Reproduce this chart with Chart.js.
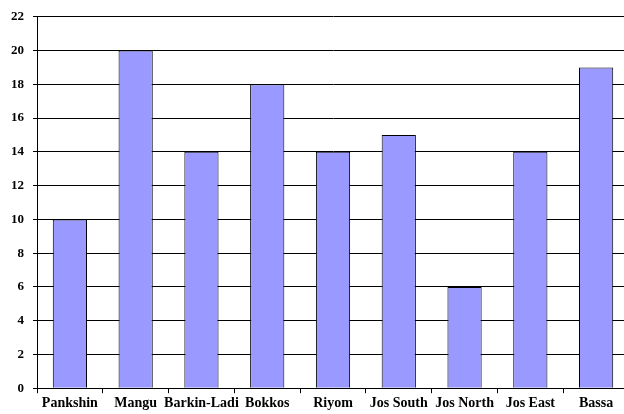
<!DOCTYPE html>
<html>
<head>
<meta charset="utf-8">
<script src="https://cdn.jsdelivr.net/npm/chart.js@4"></script>
<style>
    html, body { margin: 0; padding: 0; background: #fff; overflow: hidden; }
    #wrap { position: relative; width: 640px; height: 414px; }
</style>
</head>
<body>
<div id="wrap"><canvas id="barChart"></canvas></div>
<script>
// Data
const categories = ['Pankshin', 'Mangu', 'Barkin-Ladi', 'Bokkos', 'Riyom', 'Jos South', 'Jos North', 'Jos East', 'Bassa'];
const values = [10, 20, 14, 18, 14, 15, 6, 14, 19];
const yMin = 0;
const yMax = 22;
const yStep = 2;

const serif = '"Liberation Serif", "Times New Roman", serif';

const ctx = document.getElementById('barChart').getContext('2d');
new Chart(ctx, {
    type: 'bar',
    data: {
        labels: categories,
        datasets: [{
            data: values,
            backgroundColor: '#9999FF',
            borderColor: '#000',
            borderWidth: 1,
            barPercentage: 0.52,
            categoryPercentage: 1
        }]
    },
    options: {
        responsive: true,
        maintainAspectRatio: false,
        animation: false,
        layout: { padding: { top: 8, right: 11, left: 2, bottom: 0 } },
        plugins: {
            legend: { display: false },
            tooltip: { enabled: false }
        },
        scales: {
            x: {
                grid: { drawOnChartArea: false, drawTicks: true, tickLength: 5, color: '#000' },
                border: { color: '#000', width: 1 },
                ticks: { color: '#000', font: { family: serif, size: 14, weight: 'bold' }, padding: 2, maxRotation: 0, autoSkip: false }
            },
            y: {
                min: yMin,
                max: yMax,
                grid: { color: '#000', tickLength: 4 },
                border: { color: '#000', width: 1 },
                ticks: { stepSize: yStep, color: '#000', font: { family: serif, size: 13, weight: 'bold' }, padding: 9 }
            }
        }
    }
});
</script>
</body>
</html>
